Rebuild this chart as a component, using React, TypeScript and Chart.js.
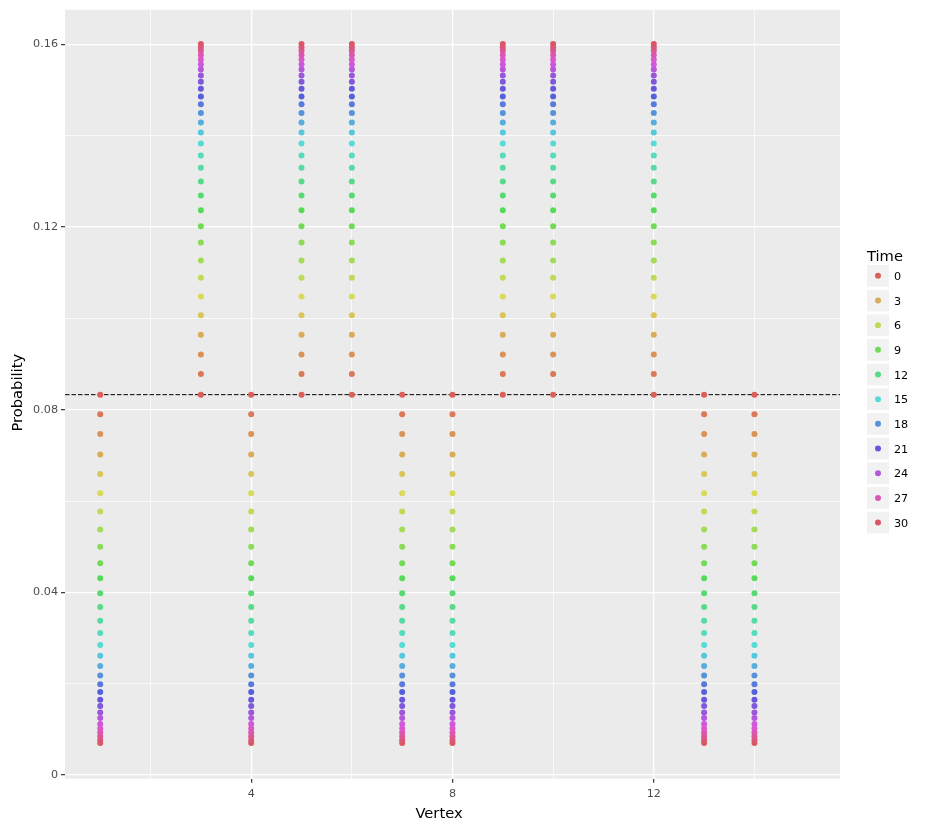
import React, { useEffect, useRef } from "react";
import { Chart, registerables } from "chart.js";

Chart.register(...registerables);

// ---- data ----
const vertices = [1, 3, 4, 5, 6, 7, 8, 9, 10, 12, 13, 14];
const risingVertices = [3, 5, 6, 9, 10, 12];
const times = [
  0, 1, 2, 3, 4, 5, 6, 7, 8, 9, 10, 11, 12, 13, 14, 15, 16, 17, 18, 19, 20,
  21, 22, 23, 24, 25, 26, 27, 28, 29, 30,
];
const fallingProb = [
  0.0833, 0.079, 0.0747, 0.0702, 0.0659, 0.0617, 0.0577, 0.0538, 0.05, 0.0464,
  0.0431, 0.0398, 0.0368, 0.0338, 0.0311, 0.0285, 0.0261, 0.0239, 0.0218,
  0.0199, 0.0182, 0.0165, 0.0151, 0.0137, 0.0125, 0.0112, 0.0102, 0.0093,
  0.0085, 0.0077, 0.007,
];
const risingProb = [
  0.0833, 0.0878, 0.0921, 0.0964, 0.1007, 0.1048, 0.1089, 0.1127, 0.1166,
  0.1202, 0.1237, 0.1269, 0.13, 0.133, 0.1357, 0.1383, 0.1407, 0.1429, 0.145,
  0.1469, 0.1486, 0.1503, 0.1518, 0.1532, 0.1545, 0.1556, 0.1567, 0.1577,
  0.1586, 0.1593, 0.1601,
];
const uniformLine = 0.0833;
const legendTimes = [0, 3, 6, 9, 12, 15, 18, 21, 24, 27, 30];
const xTickValues = [2, 4, 6, 8, 10, 12, 14];
const xTickLabels = [4, 8, 12];
const yTickValues = [0, 0.02, 0.04, 0.06, 0.08, 0.1, 0.12, 0.14, 0.16];
const yTickLabels = ["0", "0.04", "0.08", "0.12", "0.16"];
const xRange = [0.3, 15.7];
const yRange = [-0.0008, 0.1676];

const FONT = '"DejaVu Sans", sans-serif';

function timeColor(t: number): string {
  const n = times.length;
  const idx = times.indexOf(t);
  const h = (((idx / n) + 0.01) % 1) * 360;
  return `hsl(${h}, 65%, 60%)`;
}

const isLabelledY = (v: number) =>
  yTickLabels.some((l) => Math.abs(parseFloat(l) - v) < 1e-9);
const isLabelledX = (v: number) => xTickLabels.some((l) => Math.abs(l - v) < 1e-9);

const panelPlugin = {
  id: "panel",
  beforeDraw(chart: any) {
    const { ctx, chartArea } = chart;
    ctx.save();
    ctx.fillStyle = "#ebebeb";
    ctx.fillRect(
      chartArea.left,
      chartArea.top,
      chartArea.right - chartArea.left,
      chartArea.bottom - chartArea.top
    );
    ctx.restore();
  },
  beforeDatasetsDraw(chart: any) {
    const { ctx, chartArea, scales } = chart;
    const y = scales.y.getPixelForValue(uniformLine);
    ctx.save();
    ctx.strokeStyle = "#000000";
    ctx.lineWidth = 1;
    ctx.setLineDash([4.5, 2]);
    ctx.beginPath();
    ctx.moveTo(chartArea.left, y);
    ctx.lineTo(chartArea.right, y);
    ctx.stroke();
    ctx.restore();
  },
  afterDraw(chart: any) {
    const { ctx, chartArea } = chart;
    ctx.save();
    // axis titles
    ctx.fillStyle = "#000000";
    ctx.font = `14.7px ${FONT}`;
    ctx.textAlign = "center";
    ctx.textBaseline = "alphabetic";
    ctx.fillText("Vertex", 439, 818.3);
    ctx.save();
    ctx.translate(22.3, (chartArea.top + chartArea.bottom) / 2 - 1.5);
    ctx.rotate(-Math.PI / 2);
    ctx.fillText("Probability", 0, 0);
    ctx.restore();

    // legend
    ctx.textAlign = "left";
    ctx.font = `14.7px ${FONT}`;
    ctx.fillText("Time", 867, 261);
    const keyTop = 265;
    const keyStep = 24.67;
    const keySize = 21.7;
    legendTimes.forEach((t, i) => {
      const top = keyTop + i * keyStep;
      ctx.fillStyle = "#f2f2f2";
      ctx.fillRect(867, top, 22, keySize);
      ctx.fillStyle = timeColor(t);
      ctx.beginPath();
      ctx.arc(878, top + keySize / 2, 3, 0, Math.PI * 2);
      ctx.fill();
      ctx.fillStyle = "#000000";
      ctx.font = `11.2px ${FONT}`;
      ctx.fillText(String(t), 894, top + keySize / 2 + 4.1);
    });
    ctx.restore();
  },
};

export default function App() {
  const ref = useRef<HTMLCanvasElement | null>(null);

  useEffect(() => {
    if (!ref.current) return;
    const datasets = times.map((t, i) => ({
      label: String(t),
      order: times.length - 1 - i,
      data: vertices.map((v) => ({
        x: v,
        y: risingVertices.includes(v) ? risingProb[i] : fallingProb[i],
      })),
      backgroundColor: timeColor(t),
      borderWidth: 0,
      pointRadius: 3,
      pointHoverRadius: 3,
    }));

    const chart = new Chart(ref.current, {
      type: "scatter",
      data: { datasets },
      plugins: [panelPlugin],
      options: {
        animation: false,
        responsive: false,
        events: [],
        layout: { padding: { top: 9, right: 95, left: 0, bottom: 0 } },
        plugins: {
          legend: { display: false },
          tooltip: { enabled: false },
        },
        scales: {
          x: {
            type: "linear",
            min: xRange[0],
            max: xRange[1],
            afterBuildTicks: (scale: any) => {
              scale.ticks = xTickValues.map((v) => ({ value: v }));
            },
            afterFit: (scale: any) => {
              scale.height = 51.3;
            },
            border: { display: false },
            grid: {
              color: "#ffffff",
              lineWidth: (c: any) => (isLabelledX(c.tick.value) ? 1.3 : 0.7),
              drawTicks: true,
              tickLength: 4,
              tickColor: (c: any) =>
                isLabelledX(c.tick.value) ? "#333333" : "rgba(0,0,0,0)",
              tickWidth: 1.2,
            },
            ticks: {
              autoSkip: false,
              maxRotation: 0,
              padding: 5,
              color: "#4d4d4d",
              font: { family: FONT, size: 11.2 },
              callback: (v: any) => (isLabelledX(Number(v)) ? String(v) : ""),
            },
          },
          y: {
            type: "linear",
            min: yRange[0],
            max: yRange[1],
            afterBuildTicks: (scale: any) => {
              scale.ticks = yTickValues.map((v) => ({ value: v }));
            },
            afterFit: (scale: any) => {
              scale.width = 65;
            },
            border: { display: false },
            grid: {
              color: "#ffffff",
              lineWidth: (c: any) => (isLabelledY(c.tick.value) ? 1.3 : 0.7),
              drawTicks: true,
              tickLength: 4,
              tickColor: (c: any) =>
                isLabelledY(c.tick.value) ? "#333333" : "rgba(0,0,0,0)",
              tickWidth: 1.2,
            },
            ticks: {
              autoSkip: false,
              padding: 3,
              color: "#4d4d4d",
              font: { family: FONT, size: 11.2 },
              callback: (v: any) => {
                const n = Number(v);
                const found = yTickLabels.find(
                  (l) => Math.abs(parseFloat(l) - n) < 1e-9
                );
                return found ?? "";
              },
            },
          },
        },
      },
    });
    return () => chart.destroy();
  }, []);

  return (
    <div style={{ position: "absolute", left: 0, top: 0, width: 935, height: 830, background: "#ffffff" }}>
      <canvas ref={ref} width={935} height={830} style={{ display: "block" }} />
    </div>
  );
}
